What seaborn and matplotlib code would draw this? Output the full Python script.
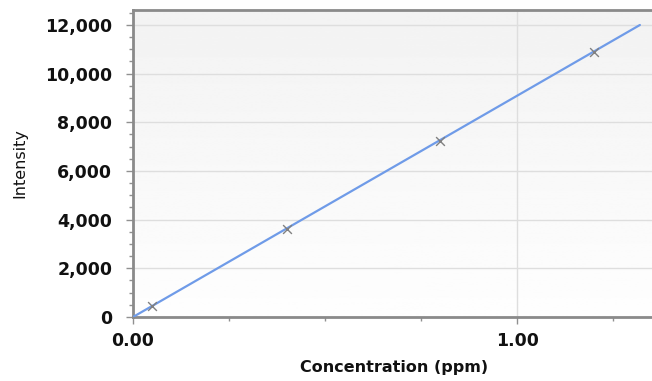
import numpy as np
import pandas as pd
import matplotlib
matplotlib.use("Agg")
import matplotlib.pyplot as plt
import seaborn as sns
from matplotlib.ticker import MultipleLocator, FixedLocator, FuncFormatter

# calibration standards
conc = [0.05, 0.40, 0.80, 1.20]
intensity = [450, 3600, 7250, 10900]

# calibration line end points (ppm, intensity)
fit_conc = [0.0, 1.32]
fit_intensity = [0, 12000]

x_ticks = [0.0, 1.0]
y_ticks = [0, 2000, 4000, 6000, 8000, 10000, 12000]

sns.set_theme(style="white")
plt.rcParams["font.family"] = ["DejaVu Sans"]

fig = plt.figure(figsize=(6.52, 3.81), dpi=100)
ax = fig.add_axes([0.204, 0.168, 0.801, 0.806])

x_max, y_max = 1.36, 12620

# light gradient background: grey at the top, almost white at the bottom
grad = np.linspace(0.95, 0.995, 256).reshape(-1, 1)
ax.imshow(grad, cmap="gray", vmin=0, vmax=1, aspect="auto",
          extent=[0, x_max, 0, y_max], zorder=0, origin="upper")

line_df = pd.DataFrame({"conc": fit_conc, "intensity": fit_intensity})
pts_df = pd.DataFrame({"conc": conc, "intensity": intensity})

sns.lineplot(data=line_df, x="conc", y="intensity", ax=ax, color="#6f9be8",
             linewidth=1.6, zorder=3)
sns.scatterplot(data=pts_df, x="conc", y="intensity", ax=ax, marker="x",
                color="#808080", s=40, linewidth=1.0, zorder=4)

ax.set_xlim(0, x_max)
ax.set_ylim(0, y_max)

ax.xaxis.set_major_locator(FixedLocator(x_ticks))
ax.xaxis.set_minor_locator(FixedLocator([0.25, 0.5, 0.75, 1.25]))
ax.yaxis.set_major_locator(FixedLocator(y_ticks))
ax.yaxis.set_minor_locator(MultipleLocator(500))
ax.xaxis.set_major_formatter(FuncFormatter(lambda v, p: f"{v:.2f}"))
ax.yaxis.set_major_formatter(FuncFormatter(lambda v, p: f"{v:,.0f}"))

ax.grid(True, which="major", color="#dedede", linewidth=1.0, zorder=1)
ax.set_axisbelow(True)

ax.tick_params(axis="both", which="both", direction="out", colors="#909090",
               labelcolor="#111111", bottom=True, left=True)
ax.tick_params(axis="both", which="major", length=5, width=1)
ax.tick_params(axis="both", which="minor", length=3, width=1)
ax.tick_params(axis="y", which="major", pad=10)
ax.tick_params(axis="x", which="major", pad=6)
for lab in ax.get_xticklabels() + ax.get_yticklabels():
    lab.set_fontsize(12.5)
    lab.set_fontweight("bold")

for side in ["left", "bottom", "top"]:
    ax.spines[side].set_color("#8a8a8a")
    ax.spines[side].set_linewidth(2)
ax.spines["right"].set_visible(False)

ax.set_xlabel("Concentration (ppm)", fontsize=11.5, fontweight="bold",
              color="#111111", labelpad=7)
ax.set_ylabel("Intensity", fontsize=11.5, color="#111111", labelpad=13)

fig.savefig("out.png", dpi=100)
